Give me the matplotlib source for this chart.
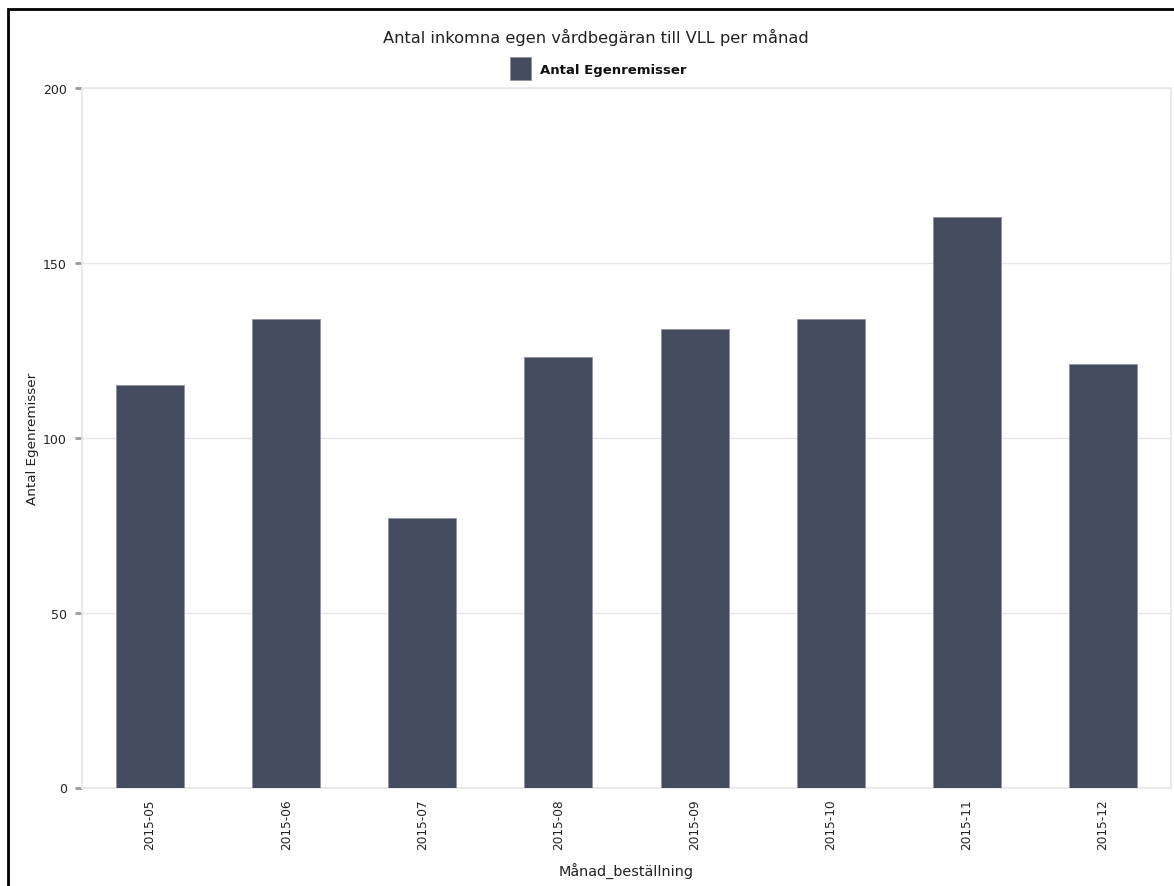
import matplotlib
matplotlib.use("Agg")
import matplotlib.pyplot as plt
from matplotlib.patches import Rectangle, Patch

months = ["2015-05", "2015-06", "2015-07", "2015-08",
          "2015-09", "2015-10", "2015-11", "2015-12"]
counts = [115, 134, 77, 123, 131, 134, 163, 121]
y_ticks = [0, 50, 100, 150, 200]

bar_color = "#444b5e"
grid_color = "#e6e6e6"
text_color = "#222222"

W, H = 1174, 887
fig = plt.figure(figsize=(W / 100, H / 100), dpi=100)
fig.patch.set_facecolor("white")

ax = fig.add_axes([82 / W, (H - 788.5) / H, 1089 / W, 699.5 / H])

x = range(len(months))
ax.bar(x, counts, width=0.5, color=bar_color, edgecolor="#8e93a0",
       linewidth=0.6, zorder=3)

ax.set_xlim(-0.5, len(months) - 0.5)
ax.set_ylim(0, 200)
ax.set_yticks(y_ticks)
ax.set_yticklabels([str(v) for v in y_ticks], fontsize=9, color=text_color)
ax.set_xticks(list(x))
ax.set_xticklabels(months, rotation=90, fontsize=8.7, color=text_color)

ax.yaxis.grid(True, color=grid_color, linewidth=1, zorder=0)
ax.set_axisbelow(True)
for side in ["left", "right", "top", "bottom"]:
    ax.spines[side].set_color(grid_color)
    ax.spines[side].set_linewidth(1.2)

ax.tick_params(axis="y", length=5, width=2, color="#999999", pad=6)
ax.tick_params(axis="x", length=0, pad=8)

ax.set_ylabel("Antal Egenremisser", fontsize=9.7, color=text_color, labelpad=3)
ax.set_xlabel("Månad_beställning", fontsize=10.4, color=text_color, labelpad=10)

fig.text(596 / W, 1 - 37 / H, "Antal inkomna egen vårdbegäran till VLL per månad",
         ha="center", va="center", fontsize=11.7, color=text_color)

leg = fig.legend(handles=[Patch(facecolor=bar_color, edgecolor="#8e93a0",
                                 linewidth=0.6, label="Antal Egenremisser")],
                 loc="center", bbox_to_anchor=(598 / W, 1 - 69.5 / H),
                 frameon=False, handlelength=1.6, handleheight=2.2,
                 handletextpad=0.7, prop={"weight": "bold", "size": 9.5})
for t in leg.get_texts():
    t.set_color("#111111")

# outer frame, open toward the right and bottom edges
fig.patches.append(Rectangle((8 / W, -0.05), 1.2, 1 - 10 / H + 0.05,
                             transform=fig.transFigure, fill=False,
                             edgecolor="black", linewidth=2))

fig.savefig("out.png", dpi=100)
